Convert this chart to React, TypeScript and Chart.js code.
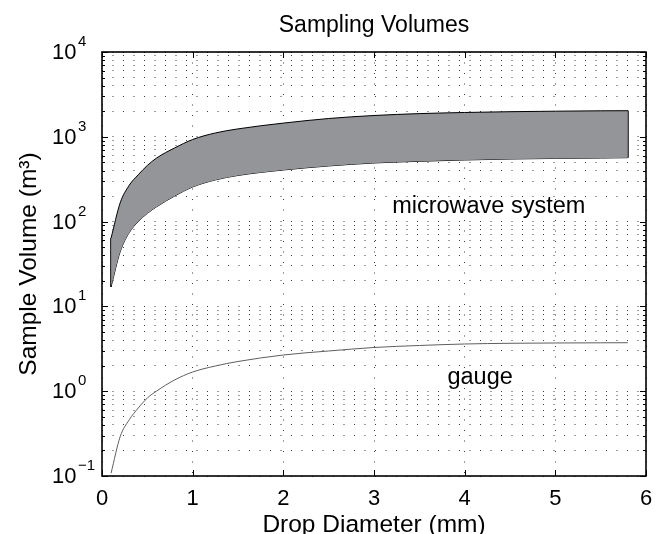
import React, { useEffect, useRef } from 'react';
import { Chart, registerables } from 'chart.js';

Chart.register(...registerables);

// Drop diameter (mm)
const diameters = [0.1, 0.2, 0.3, 0.4, 0.5, 0.6, 0.8, 1.0, 1.25, 1.5, 2.0, 2.5, 3.0, 3.5, 4.0, 4.5, 5.0, 5.5, 5.8];
// Microwave system sampling volume band (m^3): upper and lower bounds
const microwaveUpper = [64, 166, 268, 357, 459, 560, 738, 929, 1110, 1240, 1450, 1643, 1783, 1877, 1935, 1977, 2004, 2026, 2031];
const microwaveLower = [17, 44, 74, 100, 125, 149, 200, 256, 310, 350, 406, 453, 491, 514, 533, 547, 556, 562, 567];
// Rain gauge sampling volume (m^3)
const gaugeVolume = [0.108, 0.29, 0.46, 0.634, 0.831, 1.0, 1.356, 1.684, 1.983, 2.24, 2.673, 2.979, 3.276, 3.459, 3.603, 3.672, 3.702, 3.72, 3.73];

// Axis ticks
const xTicks = [0, 1, 2, 3, 4, 5, 6];
const yExponents = [-1, 0, 1, 2, 3, 4];
const yMantissas = [1, 2, 3, 4, 5, 6, 7, 8, 9];

// In-plot annotations
const annotations = [
  { text: 'microwave system', x: 3.2, y: 150 },
  { text: 'gauge', x: 3.81, y: 1.45 },
];

const FAMILY = '"Liberation Sans", Arial, Helvetica, sans-serif';

const yGridValues: number[] = [];
yExponents.forEach((e, i) => {
  if (i === yExponents.length - 1) {
    yGridValues.push(Math.pow(10, e));
  } else {
    yMantissas.forEach((m) => yGridValues.push(+(m * Math.pow(10, e)).toPrecision(6)));
  }
});

const framePlugin = {
  id: 'matlabFrame',
  afterDraw(chart: any) {
    const { ctx, chartArea: a, scales } = chart;
    const xs = scales.x;
    const ys = scales.y;
    ctx.save();

    // inward tick marks on all four sides
    ctx.strokeStyle = '#000';
    ctx.lineWidth = 1;
    ctx.beginPath();
    xTicks.forEach((v) => {
      const px = Math.round(xs.getPixelForValue(v)) + 0.5;
      ctx.moveTo(px, a.bottom);
      ctx.lineTo(px, a.bottom - 6);
      ctx.moveTo(px, a.top);
      ctx.lineTo(px, a.top + 6);
    });
    yGridValues.forEach((v) => {
      const py = Math.round(ys.getPixelForValue(v)) + 0.5;
      const isDecade = Math.abs(Math.log10(v) - Math.round(Math.log10(v))) < 1e-9;
      const len = isDecade ? 6 : 3;
      ctx.moveTo(a.left, py);
      ctx.lineTo(a.left + len, py);
      ctx.moveTo(a.right, py);
      ctx.lineTo(a.right - len, py);
    });
    ctx.stroke();

    // axes box
    ctx.lineWidth = 1.6;
    ctx.strokeRect(a.left, a.top, a.right - a.left, a.bottom - a.top);

    // decade labels 10^k
    ctx.fillStyle = '#000';
    yExponents.forEach((e) => {
      const py = ys.getPixelForValue(Math.pow(10, e));
      const baseX = a.left - 50;
      ctx.font = `22px ${FAMILY}`;
      ctx.textAlign = 'left';
      ctx.textBaseline = 'middle';
      ctx.fillText('10', baseX, py + 1);
      const w = ctx.measureText('10').width;
      ctx.font = `15px ${FAMILY}`;
      ctx.textBaseline = 'alphabetic';
      ctx.fillText(e < 0 ? '\u2212' + Math.abs(e) : String(e), baseX + w + 1.5, py - 6);
    });

    // annotations
    ctx.font = `23.5px ${FAMILY}`;
    ctx.textAlign = 'left';
    ctx.textBaseline = 'middle';
    annotations.forEach((t) => {
      ctx.fillText(t.text, xs.getPixelForValue(t.x), ys.getPixelForValue(t.y));
    });

    ctx.restore();
  },
};

export default function App() {
  const canvasRef = useRef<HTMLCanvasElement | null>(null);

  useEffect(() => {
    if (!canvasRef.current) return;
    const pts = (ys: number[]) => diameters.map((d, i) => ({ x: d, y: ys[i] }));
    const first = 0;
    const last = diameters.length - 1;

    const chart = new Chart(canvasRef.current, {
      type: 'line',
      data: {
        datasets: [
          {
            label: 'microwave upper',
            data: pts(microwaveUpper),
            borderColor: '#000',
            borderWidth: 1,
            backgroundColor: '#939598',
            fill: '+1',
            pointRadius: 0,
            cubicInterpolationMode: 'monotone',
          },
          {
            label: 'microwave lower',
            data: pts(microwaveLower),
            borderColor: '#000',
            borderWidth: 1,
            fill: false,
            pointRadius: 0,
            cubicInterpolationMode: 'monotone',
          },
          {
            label: 'band start',
            data: [
              { x: diameters[first], y: microwaveUpper[first] },
              { x: diameters[first], y: microwaveLower[first] },
            ],
            borderColor: '#000',
            borderWidth: 1,
            fill: false,
            pointRadius: 0,
            tension: 0,
          },
          {
            label: 'band end',
            data: [
              { x: diameters[last], y: microwaveUpper[last] },
              { x: diameters[last], y: microwaveLower[last] },
            ],
            borderColor: '#000',
            borderWidth: 1,
            fill: false,
            pointRadius: 0,
            tension: 0,
          },
          {
            label: 'gauge',
            data: pts(gaugeVolume),
            borderColor: '#5e5e5e',
            borderWidth: 1,
            fill: false,
            pointRadius: 0,
            cubicInterpolationMode: 'monotone',
          },
        ],
      },
      options: {
        animation: false,
        responsive: true,
        maintainAspectRatio: false,
        layout: { padding: { left: 0, right: 26, top: 0, bottom: 0 } },
        plugins: {
          legend: { display: false },
          tooltip: { enabled: false },
          title: {
            display: true,
            text: 'Sampling Volumes',
            color: '#000',
            fullSize: false,
            font: { family: FAMILY, size: 23, weight: 'normal' },
            padding: { top: 12, bottom: 12.4 },
          },
        },
        scales: {
          x: {
            type: 'linear',
            min: 0,
            max: 6,
            afterBuildTicks: (s: any) => {
              s.ticks = xTicks.map((v) => ({ value: v }));
            },
            ticks: {
              color: '#000',
              font: { family: FAMILY, size: 22 },
              padding: 10,
              maxRotation: 0,
              autoSkip: false,
            },
            grid: { color: '#3a3a3a', lineWidth: 1, drawTicks: false },
            border: { display: false, dash: [1, 9.5] },
            title: {
              display: true,
              text: 'Drop Diameter (mm)',
              color: '#000',
              font: { family: FAMILY, size: 24.5 },
              padding: { top: 0, bottom: -6.4 },
            },
            afterFit: (s: any) => {
              s.height = 58;
            },
          },
          y: {
            type: 'logarithmic',
            min: 0.1,
            max: 10000,
            afterBuildTicks: (s: any) => {
              s.ticks = yGridValues.map((v) => ({ value: v }));
            },
            ticks: { display: false },
            grid: { color: '#3a3a3a', lineWidth: 1, drawTicks: false },
            border: { display: false, dash: [1, 9.5] },
            title: {
              display: true,
              text: 'Sample Volume (m\u00B3)',
              color: '#000',
              font: { family: FAMILY, size: 24.5 },
              padding: { top: 14.2, bottom: 0 },
            },
            afterFit: (s: any) => {
              s.width = 102;
            },
          },
        },
      },
      plugins: [framePlugin],
    } as any);

    return () => chart.destroy();
  }, []);

  return (
    <div style={{ position: 'fixed', left: 0, top: 0, width: 672, height: 534, background: '#fff' }}>
      <canvas ref={canvasRef} />
    </div>
  );
}
